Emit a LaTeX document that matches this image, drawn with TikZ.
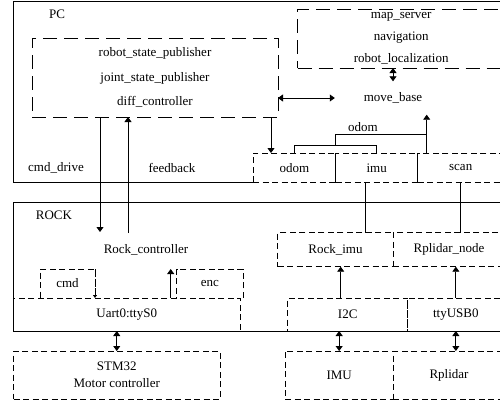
\documentclass[tikz,border=0pt]{standalone}
\usepackage{fontspec}
\setmainfont{Liberation Serif}
\usepackage{tikz}
\usetikzlibrary{arrows.meta,positioning}

\begin{document}
\begin{tikzpicture}[
  x=1pt,y=-1pt,
  font=\fontsize{13}{15}\selectfont,
  node distance=0pt,
  panel/.style={draw,line width=0.8pt,anchor=north west,inner sep=0pt,outer sep=0pt},
  bigbox/.style={draw,dash pattern=on 14pt off 7pt,line width=0.8pt,fill=white,anchor=north west,align=center,inner sep=0pt,outer sep=0pt},
  box/.style={draw,dash pattern=on 6pt off 3.5pt,line width=0.8pt,fill=white,align=center,inner sep=0pt,outer sep=0pt},
  txt/.style={inner sep=0pt},
  arrow/.style={-{Triangle[length=5pt,width=7pt]},line width=0.8pt},
  biarrow/.style={{Triangle[length=5pt,width=7pt]}-{Triangle[length=5pt,width=7pt]},line width=0.8pt},
  link/.style={line width=0.8pt}
]
\useasboundingbox (0,0) rectangle (500,402);
\clip (0,0) rectangle (500,402);

\node[panel,minimum width=500pt,minimum height=180.5pt] (pc) at (13.5,1.5) {};
\node[txt] (pclabel) at (57,14) {PC};
\node[bigbox,minimum width=246pt,minimum height=79pt,font=\fontsize{13}{24.5}\selectfont] (pub) at (32,38) {robot\_state\_publisher\\joint\_state\_publisher\\diff\_controller};
\node[bigbox,minimum width=207pt,minimum height=59pt,font=\fontsize{13}{22}\selectfont] (map) at (297.7,9) {map\_server\\navigation\\robot\_localization};
\node[txt,minimum width=116pt,minimum height=33pt] (movebase) at (393,98) {move\_base};
\node[box,anchor=north west,minimum width=82.7pt,minimum height=29.7pt] (odom) at (253,153) {odom};
\node[box,right=of odom,minimum width=82pt,minimum height=29.7pt] (imu) {imu};
\node[box,right=of imu,minimum width=86pt,minimum height=29.7pt] (scan) {scan};
\node[txt] (drivelbl) at (56,168) {cmd\_drive};
\node[txt] (fblbl) at (172,168) {feedback};
\node[txt] (odomlbl) at (363,127) {odom};

\node[panel,minimum width=500pt,minimum height=129pt] (rock) at (13.5,202) {};
\node[txt] (rocklabel) at (54,215) {ROCK};
\node[txt] (rockctl) at (146,250) {Rock\_controller};
\node[box,anchor=north west,minimum width=55pt,minimum height=29pt] (cmd) at (40,269) {cmd};
\node[box,anchor=north west,minimum width=66.3pt,minimum height=29pt] (enc) at (176.7,269) {enc};
\node[box,anchor=north west,minimum width=226.5pt,minimum height=33pt] (uart) at (13.5,298) {Uart0:ttyS0};
\node[box,anchor=north west,minimum width=115.6pt,minimum height=34pt] (rockimu) at (277.7,232.7) {Rock\_imu};
\node[box,right=of rockimu,minimum width=111.4pt,minimum height=34pt] (rplnode) {Rplidar\_node};
\node[box,anchor=north west,minimum width=120pt,minimum height=33pt] (i2c) at (287.7,298) {I2C};
\node[box,right=of i2c,minimum width=96.3pt,minimum height=33pt] (ttyusb) {ttyUSB0};
\draw[link] (rock.south west) -- (rock.south east);
\node[box,anchor=north west,minimum width=206.5pt,minimum height=48pt,font=\fontsize{13}{17}\selectfont] (stm) at (13.5,351) {STM32\\Motor controller};
\node[box,anchor=north west,minimum width=108.3pt,minimum height=48pt] (imubox) at (285,351) {IMU};
\node[box,right=of imubox,minimum width=111.4pt,minimum height=48pt] (rplidar) {Rplidar};

\coordinate (drivein) at (100,232);
\coordinate (fbout) at (128,233);
\coordinate (navdrop) at (271,117);
\coordinate (scanup) at ([xshift=9pt]scan.north west);
\draw[arrow] (pub.south -| drivein) -- (drivein);
\draw[arrow] (fbout) -- (pub.south -| fbout);
\draw[biarrow] (map.south -| movebase) -- (movebase.north);
\draw[biarrow] (pub.east |- movebase) -- (movebase.west);
\draw[arrow] (navdrop) -- (navdrop |- odom.north);
\draw[link] (odom.north) -- ++(0,-8) -| (imu.north);
\draw[link] (imu.north west) ++(0,-8) -- ++(0,-11) -| (scanup);
\draw[arrow] (scanup) -- (scanup |- movebase.south);
\draw[link] ([xshift=-11.7pt]imu.south) -- ([xshift=-11.7pt]imu.south |- rockimu.north);
\draw[link] (scan.south) -- (scan.south |- rplnode.north);
\draw[arrow] ([xshift=-7pt]i2c.north) -- ([xshift=-7pt]i2c.north |- rockimu.south);
\draw[arrow] (ttyusb.north) -- (ttyusb.north |- rplnode.south);
\draw[biarrow] (stm.north |- uart.south) -- (stm.north);
\draw[biarrow] (imubox.north |- i2c.south) -- (imubox.north);
\draw[biarrow] (ttyusb.south) -- (ttyusb.south |- rplidar.north);
\draw[arrow] ([xshift=-6pt]enc.south west) -- ([xshift=-6pt]enc.north west);
\draw[-{Triangle[length=3pt,width=4pt]},line width=0.8pt,dash pattern=on 6pt off 3.5pt] (cmd.north east) -- (cmd.south east);
\end{tikzpicture}
\end{document}
